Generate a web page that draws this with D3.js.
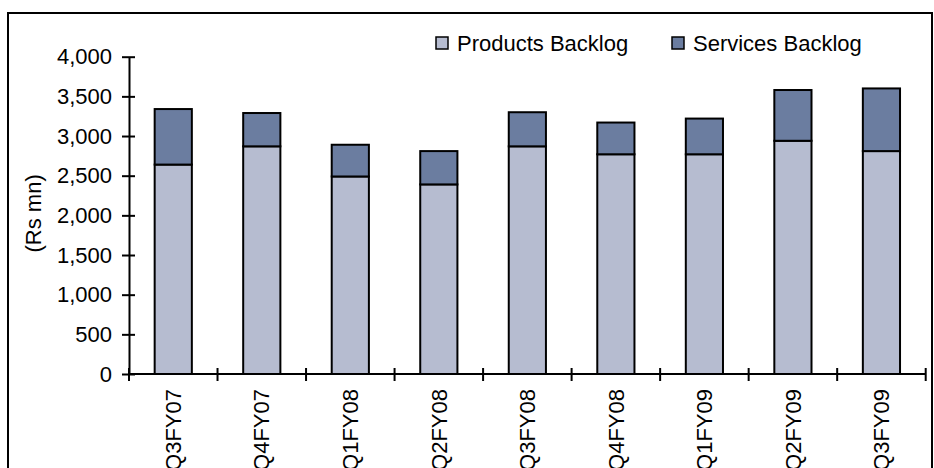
<!DOCTYPE html>
<html>
<head>
<meta charset="utf-8">
<script src="https://cdn.jsdelivr.net/npm/d3@7"></script>
<style>
  html, body { margin: 0; padding: 0; background: #fff; }
  svg { display: block; font-family: "Liberation Sans", Arial, sans-serif; }
</style>
</head>
<body>
<svg id="chart" width="934" height="468"></svg>
<script>
// Quarterly order backlog (Rs mn)
const quarters = ["Q3FY07", "Q4FY07", "Q1FY08", "Q2FY08", "Q3FY08", "Q4FY08", "Q1FY09", "Q2FY09", "Q3FY09"];
const productsBacklog = [2640, 2870, 2490, 2390, 2870, 2770, 2770, 2940, 2810];
const servicesBacklog = [700, 420, 400, 420, 430, 400, 450, 640, 790];
const seriesNames = ["Products Backlog", "Services Backlog"];
const yTicks = [0, 500, 1000, 1500, 2000, 2500, 3000, 3500, 4000];

const colors = ["#b6bcd0", "#6b7da0"];
const fontSize = 22;

const svg = d3.select("#chart");

// outer frame (bottom edge runs past the visible area)
svg.append("rect")
  .attr("x", 8).attr("y", 13)
  .attr("width", 924).attr("height", 480)
  .attr("fill", "none").attr("stroke", "#000").attr("stroke-width", 2);

const plotLeft = 129, plotRight = 925.7, plotTop = 56.7, plotBottom = 374;

const x = d3.scaleBand().domain(quarters).range([plotLeft, plotRight])
  .paddingInner(0.58).paddingOuter(0.29);
const y = d3.scaleLinear().domain([0, 4000]).range([plotBottom, plotTop]);

const rows = quarters.map((q, i) => ({ q, products: productsBacklog[i], services: servicesBacklog[i] }));
const stack = d3.stack().keys(["products", "services"])(rows);

// stacked bars
svg.append("g").selectAll("g").data(stack).join("g")
  .attr("fill", (d, i) => colors[i])
  .selectAll("rect").data(d => d).join("rect")
  .attr("x", d => x(d.data.q))
  .attr("width", x.bandwidth())
  .attr("y", d => y(d[1]))
  .attr("height", d => y(d[0]) - y(d[1]))
  .attr("stroke", "#000").attr("stroke-width", 2);

// y axis
const yAxis = svg.append("g").attr("transform", `translate(${plotLeft},0)`)
  .call(d3.axisLeft(y).tickValues(yTicks).tickFormat(d3.format(",")).tickSizeOuter(0).tickSizeInner(7).tickPadding(10));
yAxis.select(".domain").attr("stroke", "#000").attr("stroke-width", 2);
yAxis.selectAll(".tick line").attr("x1", -7).attr("x2", 6).attr("stroke", "#000").attr("stroke-width", 2);
yAxis.selectAll(".tick text").attr("font-size", fontSize).attr("fill", "#000")
  .attr("font-family", "'Liberation Sans', Arial, sans-serif");

// x axis with ticks at band boundaries
const xg = svg.append("g");
xg.append("line").attr("x1", plotLeft).attr("x2", plotRight).attr("y1", plotBottom).attr("y2", plotBottom)
  .attr("stroke", "#000").attr("stroke-width", 2);
const boundaries = d3.range(quarters.length + 1).map(i => plotLeft + i * x.step());
xg.selectAll("line.tk").data(boundaries).join("line").attr("class", "tk")
  .attr("x1", d => d).attr("x2", d => d)
  .attr("y1", plotBottom - 6).attr("y2", plotBottom + 7)
  .attr("stroke", "#000").attr("stroke-width", 2);
xg.selectAll("text").data(quarters).join("text")
  .attr("transform", d => `translate(${x(d) + x.bandwidth() / 2},${plotBottom + 15}) rotate(-90)`)
  .attr("text-anchor", "end").attr("dy", "0.35em")
  .attr("font-size", fontSize).attr("fill", "#000")
  .text(d => d);

// y axis title
svg.append("text")
  .attr("transform", `translate(33,${(plotTop + plotBottom) / 2 - 2}) rotate(-90)`)
  .attr("text-anchor", "middle").attr("dy", "0.35em")
  .attr("font-size", fontSize).attr("fill", "#000")
  .text("(Rs mn)");

// legend
const legendX = [436, 672];
const lg = svg.append("g").selectAll("g").data(seriesNames).join("g")
  .attr("transform", (d, i) => `translate(${legendX[i]},37)`);
lg.append("rect").attr("width", 12).attr("height", 12)
  .attr("fill", (d, i) => colors[i]).attr("stroke", "#000").attr("stroke-width", 1.5);
lg.append("text").attr("x", 21).attr("y", 6).attr("dy", "0.35em")
  .attr("font-size", fontSize).attr("fill", "#000").text(d => d);
</script>
</body>
</html>
